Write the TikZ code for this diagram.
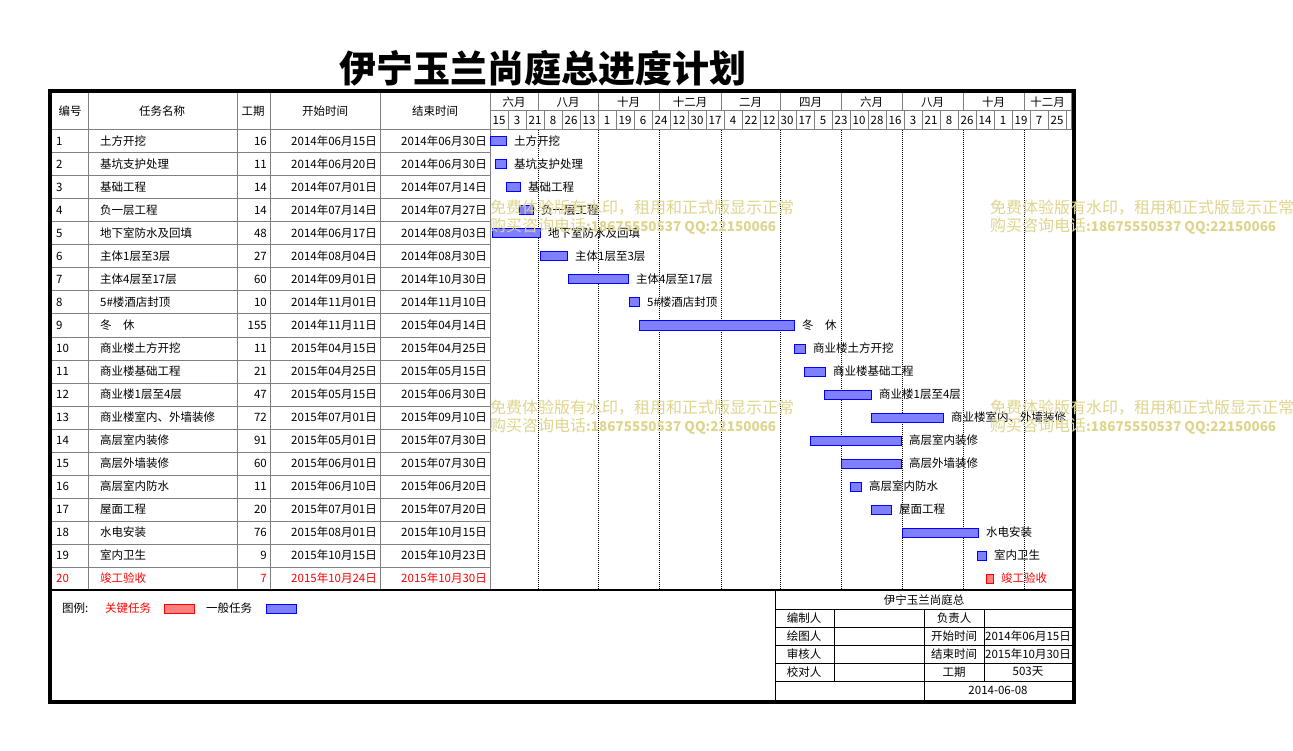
\documentclass[tikz,border=0pt]{standalone}
\usepackage{fontspec}
\setmainfont{Noto Sans CJK SC}
\usepackage{tikz}
\definecolor{wmark}{RGB}{222,212,140}
\definecolor{rulegray}{RGB}{128,128,128}

\begin{document}
\begin{tikzpicture}[x=1pt,y=-1pt,
        gridline/.style={draw=rulegray,line width=1pt},
        blockline/.style={draw=black,line width=1pt},
        monthline/.style={draw=black,line width=1pt,dash pattern=on 1pt off 1pt},
        taskbar/.style={line width=1pt},
        txt/.style={inner sep=0pt,font=\fontsize{11.5}{13}\selectfont},
        wm/.style={inner sep=0pt,anchor=west,text=wmark,font=\fontsize{16}{18}\selectfont}]
            \useasboundingbox (0,0) rectangle (1293,751);
            \node[inner sep=0pt,font=\fontsize{37}{40}\selectfont\bfseries] (title) at (543,68) {伊宁玉兰尚庭总进度计划};
            % table
            \foreach \i in {1,...,19} {
                \draw[gridline] (52,130+23*\i) -- (490,130+23*\i);
            }
            \draw[gridline] (52,130) -- (1071,130);
            \foreach \x in {88,237,270,380,490} {
                \draw[gridline] (\x,93) -- (\x,590);
            }
            \node[txt] (hno) at (70,111.5) {编号};
            \node[txt] (hname) at (162,111.5) {任务名称};
            \node[txt] (hdur) at (253,111.5) {工期};
            \node[txt] (hstart) at (325,111.5) {开始时间};
            \node[txt] (hend) at (435,111.5) {结束时间};
            % time scale
            \draw[gridline] (490,111) -- (1071,111);
            \draw[gridline] (1071,93) -- (1071,130);
            \foreach \k in {1,...,32} {
                \draw[gridline] (490+18*\k,111) -- (490+18*\k,130);
            }
            \foreach \d [count=\k from 0] in {15,3,21,8,26,13,1,19,6,24,12,30,17,4,22,12,30,17,5,23,10,28,16,3,21,8,26,14,1,19,7,25} {
                \node[txt] (day\k) at (499+18*\k,120.5) {\d};
            }
            \foreach \x in {538,598,659,721,780,841,902,963,1024} {
                \draw[gridline] (\x,93) -- (\x,111);
                \draw[monthline] (\x,130) -- (\x,590);
            }
            \foreach \a/\b/\m [count=\k] in {490/538/六月,538/598/八月,598/659/十月,659/721/十二月,721/780/二月,780/841/四月,841/902/六月,902/963/八月,963/1024/十月,1024/1071/十二月} {
                \node[txt] (mon\k) at ({(\a+\b)/2},102) {\m};
            }
            % tasks
            \foreach \n/\name/\dur/\st/\en/\off in {
                1/土方开挖/16/2014年06月15日/2014年06月30日/0,
                2/基坑支护处理/11/2014年06月20日/2014年06月30日/5,
                3/基础工程/14/2014年07月01日/2014年07月14日/16,
                4/负一层工程/14/2014年07月14日/2014年07月27日/29,
                5/地下室防水及回填/48/2014年06月17日/2014年08月03日/2,
                6/主体1层至3层/27/2014年08月04日/2014年08月30日/50,
                7/主体4层至17层/60/2014年09月01日/2014年10月30日/78,
                8/5\#楼酒店封顶/10/2014年11月01日/2014年11月10日/139,
                9/冬　休/155/2014年11月11日/2015年04月14日/149,
                10/商业楼土方开挖/11/2015年04月15日/2015年04月25日/304,
                11/商业楼基础工程/21/2015年04月25日/2015年05月15日/314,
                12/商业楼1层至4层/47/2015年05月15日/2015年06月30日/334,
                13/商业楼室内、外墙装修/72/2015年07月01日/2015年09月10日/381,
                14/高层室内装修/91/2015年05月01日/2015年07月30日/320,
                15/高层外墙装修/60/2015年06月01日/2015年07月30日/351,
                16/高层室内防水/11/2015年06月10日/2015年06月20日/360,
                17/屋面工程/20/2015年07月01日/2015年07月20日/381,
                18/水电安装/76/2015年08月01日/2015年10月15日/412,
                19/室内卫生/9/2015年10月15日/2015年10月23日/487,
                20/竣工验收/7/2015年10月24日/2015年10月30日/496} {
                \pgfmathsetmacro\y{130+23*(\n-0.5)}
                \ifnum\n=20 \def\tc{red}\def\bc{red}\else\def\tc{black}\def\bc{blue}\fi
                \node[txt,anchor=west,text=\tc] (no\n) at (56,\y) {\n};
                \node[txt,anchor=west,text=\tc] (task\n) at (100,\y) {\name};
                \node[txt,anchor=east,text=\tc] (dur\n) at (267,\y) {\dur};
                \node[txt,anchor=east,text=\tc] (start\n) at (377,\y) {\st};
                \node[txt,anchor=east,text=\tc] (end\n) at (487,\y) {\en};
                \draw[taskbar,draw=\bc,fill=\bc!50!white] ({490+\off},{\y-4.5}) rectangle ++(\dur,9);
                \node[txt,anchor=west,text=\tc] (lab\n) at ({498+\off+\dur},\y) {\name};
            }
            \draw[line width=1.5pt] (52,590) -- (1072,590);
            % legend
            \node[txt,anchor=west] (legend) at (62,608) {图例:};
            \node[txt,anchor=west,text=red] (keytask) at (105,608) {关键任务};
            \draw[taskbar,draw=red,fill=red!50!white] (164,604) rectangle (194,613);
            \node[txt,anchor=west] (normtask) at (206,608) {一般任务};
            \draw[taskbar,draw=blue,fill=blue!50!white] (266,604) rectangle (296,613);
            % title block
            \draw[blockline] (775,590) -- (775,700);
            \foreach \y in {609,627,645,663,681} {
                \draw[blockline] (775,\y) -- (1072,\y);
            }
            \draw[blockline] (834,609) -- (834,681);
            \draw[blockline] (924,609) -- (924,700);
            \draw[blockline] (984,609) -- (984,681);
            \node[txt] (proj) at (924,600) {伊宁玉兰尚庭总};
            \foreach \t/\y [count=\k] in {编制人/618,绘图人/636,审核人/654,校对人/672} {
                \node[txt] (role\k) at (804,\y) {\t};
            }
            \foreach \t/\v/\y [count=\k] in {负责人//618,开始时间/2014年06月15日/636,结束时间/2015年10月30日/654,工期/503天/672} {
                \node[txt] (key\k) at (954,\y) {\t};
                \node[txt] (val\k) at (1028,\y) {\v};
            }
            \node[txt] (date) at (998,690.5) {2014-06-08};
            \draw[line width=4pt] (50,91) rectangle (1074,702);
            % watermark
            \foreach \wx/\wy [count=\w] in {490/208,990/208,490/408,990/408} {
                \node[wm] (wma\w) at (\wx,\wy) {免费体验版有水印，租用和正式版显示正常};
                \node[wm] (wmb\w) at (\wx,\wy+18) {购买咨询电话\fontsize{13.5}{16}\selectfont\bfseries:18675550537 QQ:22150066};
            }
        \end{tikzpicture}
\end{document}
